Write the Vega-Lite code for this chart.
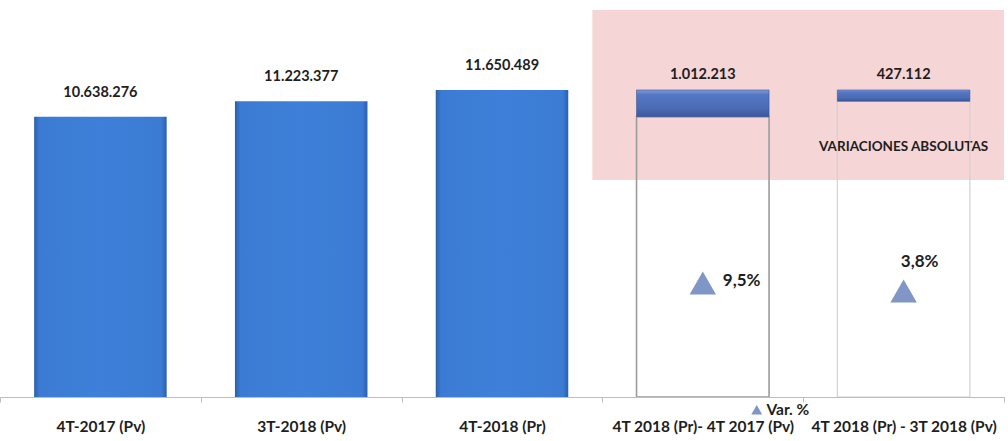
{
  "$schema": "https://vega.github.io/schema/vega-lite/v6.json",
  "width": 1004,
  "height": 387,
  "autosize": {"type": "none"},
  "padding": {"left": 0, "top": 10, "right": 4, "bottom": 44},
  "background": "white",
  "config": {
    "view": {"stroke": null},
    "font": "Lato",
    "text": {"font": "Lato", "fontWeight": "bold", "color": "#1e1e1e"}
  },
  "datasets": {
    "bars": [
      {"cat": "4T-2017 (Pv)", "kind": "main", "base": 0, "top": 10638276, "label": "10.638.276"},
      {"cat": "3T-2018 (Pv)", "kind": "main", "base": 0, "top": 11223377, "label": "11.223.377"},
      {"cat": "4T-2018 (Pr)", "kind": "main", "base": 0, "top": 11650489, "label": "11.650.489"},
      {"cat": "4T 2018 (Pr)- 4T 2017 (Pv)", "kind": "var", "base": 10638276, "top": 11650489, "label": "1.012.213", "pct": 9.5, "pctLabel": "9,5%", "serie": "Var. %"},
      {"cat": "4T 2018 (Pr) - 3T 2018 (Pv)", "kind": "var", "base": 11223377, "top": 11650489, "label": "427.112", "pct": 3.8, "pctLabel": "3,8%", "serie": "Var. %"}
    ],
    "zone": [
      {"x0": "4T-2018 (Pr)", "x1": "4T 2018 (Pr) - 3T 2018 (Pv)", "y0": 8234900, "y1": 14686382, "note": "VARIACIONES ABSOLUTAS", "ny": 9487000}
    ]
  },
  "resolve": {"scale": {"y": "independent"}},
  "layer": [
    {
      "layer": [
        {
          "data": {"name": "zone"},
          "mark": {"type": "rect", "fill": "#f5d5d6"},
          "encoding": {
            "x": {"field": "x0", "type": "nominal", "bandPosition": 0.95,
              "scale": {"domain": ["4T-2017 (Pv)", "3T-2018 (Pv)", "4T-2018 (Pr)", "4T 2018 (Pr)- 4T 2017 (Pv)", "4T 2018 (Pr) - 3T 2018 (Pv)"], "paddingInner": 0, "paddingOuter": 0},
              "sort": null,
              "axis": {"title": null, "labelAngle": 0, "labelFont": "Lato", "labelFontWeight": "bold", "labelFontSize": 15.5, "labelColor": "#1e1e1e", "labelPadding": 17, "labelOverlap": false, "labelBound": false, "labelLimit": 0, "domainColor": "#bdbdbd", "tickColor": "#bdbdbd", "tickSize": 5, "tickBand": "extent", "grid": false}
            },
            "x2": {"field": "x1", "bandPosition": 1},
            "y": {"field": "y0", "type": "quantitative", "scale": {"domain": [0, 14686382], "nice": false, "zero": true}, "axis": null},
            "y2": {"field": "y1"}
          }
        },
        {
          "data": {"name": "zone"},
          "mark": {"type": "text", "fontSize": 13.5, "baseline": "middle"},
          "encoding": {
            "x": {"field": "x1", "type": "nominal"},
            "y": {"field": "ny", "type": "quantitative"},
            "text": {"field": "note"}
          }
        },
        {
          "data": {"name": "bars"},
          "transform": [{"filter": "datum.kind == 'var'"}],
          "mark": {"type": "bar", "width": {"band": 0.66}, "fill": "transparent"},
          "encoding": {
            "x": {"field": "cat", "type": "nominal"},
            "y": {"field": "base", "type": "quantitative"},
            "y2": {"datum": 0},
            "stroke": {"condition": {"test": "datum.pct > 5", "value": "#9c9c9c"}, "value": "#d2d2d2"},
            "strokeWidth": {"condition": {"test": "datum.pct > 5", "value": 1.6}, "value": 1.2}
          }
        },
        {
          "data": {"name": "bars"},
          "transform": [{"filter": "datum.kind == 'main'"}],
          "mark": {"type": "bar", "width": {"band": 0.66},
            "fill": {"gradient": "linear", "x1": 0, "y1": 0, "x2": 1, "y2": 0,
              "stops": [{"offset": 0, "color": "#2b5fab"}, {"offset": 0.04, "color": "#3b7bd4"}, {"offset": 0.5, "color": "#3e80d9"}, {"offset": 0.96, "color": "#3b7bd4"}, {"offset": 1, "color": "#2b5fab"}]}},
          "encoding": {
            "x": {"field": "cat", "type": "nominal"},
            "y": {"field": "top", "type": "quantitative"},
            "y2": {"field": "base"}
          }
        },
        {
          "data": {"name": "bars"},
          "transform": [{"filter": "datum.kind == 'var'"}],
          "mark": {"type": "bar", "width": {"band": 0.66}, "stroke": "#3b5595", "strokeWidth": 0.6,
            "fill": {"gradient": "linear", "x1": 0, "y1": 0, "x2": 0, "y2": 1,
              "stops": [{"offset": 0, "color": "#7f9ada"}, {"offset": 0.18, "color": "#5577c4"}, {"offset": 0.7, "color": "#4a6ab5"}, {"offset": 1, "color": "#3d579b"}]}},
          "encoding": {
            "x": {"field": "cat", "type": "nominal"},
            "y": {"field": "top", "type": "quantitative"},
            "y2": {"field": "base"}
          }
        },
        {
          "data": {"name": "bars"},
          "transform": [{"filter": "datum.kind == 'main'"}],
          "mark": {"type": "text", "fontSize": 14.5, "baseline": "middle", "dy": -24},
          "encoding": {
            "x": {"field": "cat", "type": "nominal"},
            "y": {"field": "top", "type": "quantitative"},
            "text": {"field": "label"}
          }
        },
        {
          "data": {"name": "bars"},
          "transform": [{"filter": "datum.kind == 'var'"}],
          "mark": {"type": "text", "fontSize": 14.5, "baseline": "middle", "dy": -15},
          "encoding": {
            "x": {"field": "cat", "type": "nominal"},
            "y": {"field": "top", "type": "quantitative"},
            "text": {"field": "label"}
          }
        }
      ]
    },
    {
      "data": {"name": "bars"},
      "transform": [{"filter": "datum.kind == 'var'"}],
      "layer": [
        {
          "mark": {"type": "point", "filled": true, "size": 700, "opacity": 1, "color": "#7f96c6"},
          "encoding": {
            "x": {"field": "cat", "type": "nominal"},
            "y": {"field": "pct", "type": "quantitative", "scale": {"domain": [-71.7, 204], "nice": false, "zero": false}, "axis": null},
            "shape": {"field": "serie", "type": "nominal", "scale": {"range": ["triangle-up"]},
              "legend": {"title": null, "orient": "none", "legendX": 749, "legendY": 392, "padding": 0, "symbolSize": 120, "symbolFillColor": "#7f96c6", "symbolStrokeWidth": 0, "labelFont": "Lato", "labelFontWeight": "bold", "labelFontSize": 15.5, "labelColor": "#1e1e1e", "labelOffset": 2}}
          }
        },
        {
          "transform": [{"filter": "datum.pct > 5"}],
          "mark": {"type": "text", "fontSize": 17, "align": "left", "baseline": "middle", "dx": 20, "dy": -2},
          "encoding": {
            "x": {"field": "cat", "type": "nominal"},
            "y": {"field": "pct", "type": "quantitative"},
            "text": {"field": "pctLabel"}
          }
        },
        {
          "transform": [{"filter": "datum.pct < 5"}],
          "mark": {"type": "text", "fontSize": 17, "align": "center", "baseline": "middle", "dx": 16, "dy": -29},
          "encoding": {
            "x": {"field": "cat", "type": "nominal"},
            "y": {"field": "pct", "type": "quantitative"},
            "text": {"field": "pctLabel"}
          }
        }
      ]
    }
  ]
}
